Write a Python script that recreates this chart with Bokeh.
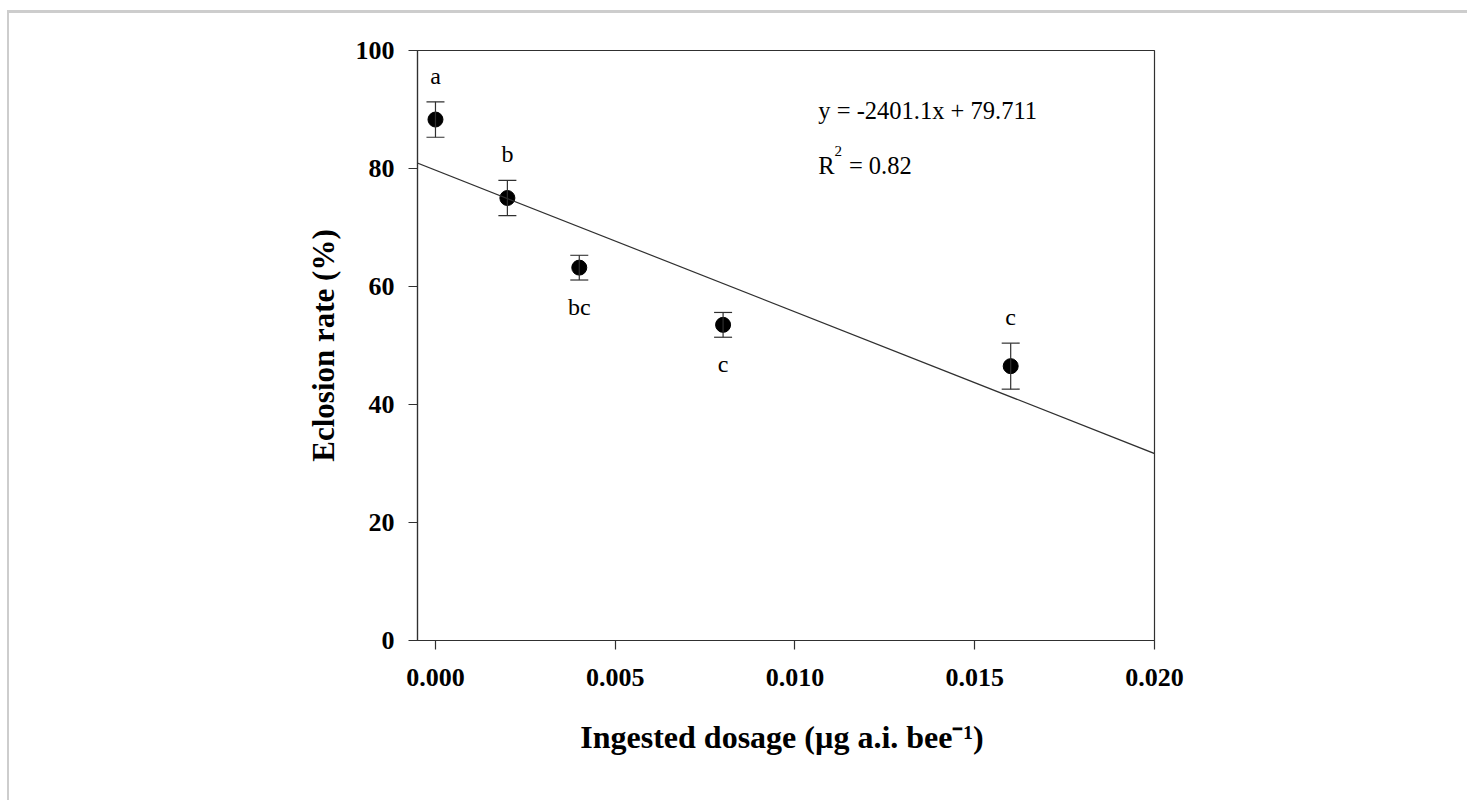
from bokeh.plotting import figure
from bokeh.models import (ColumnDataSource, Whisker, TeeHead, Slope, Label,
                          FixedTicker, PrintfTickFormatter, Range1d)
from bokeh.core.properties import value
from bokeh.embed import file_html
from bokeh.resources import INLINE

# ---- data ----
dosage = [0.000, 0.002, 0.004, 0.008, 0.016]
eclosion = [88.3, 75.0, 63.2, 53.5, 46.5]
err = [3.0, 3.0, 2.1, 2.1, 3.9]
letters = ["a", "b", "bc", "c", "c"]
letter_side = ["above", "above", "below", "below", "above"]
slope = -2401.1
intercept = 79.711
r2 = "0.82"
x_ticks = [0.000, 0.005, 0.010, 0.015, 0.020]
y_ticks = [0, 20, 40, 60, 80, 100]

SERIF = "Liberation Serif"
FRAME = "#303030"

p = figure(width=1460, height=790, output_backend="svg", toolbar_location=None,
           x_range=Range1d(-0.0005, 0.020), y_range=Range1d(0, 100),
           min_border_left=408, min_border_right=315,
           min_border_top=37, min_border_bottom=163,
           styles={"margin-top": "10px", "margin-left": "7px",
                   "border-top": "3px solid #cdcdcd", "border-left": "2px solid #cdcdcd"})
p.grid.visible = False
p.outline_line_color = FRAME
p.outline_line_width = 1.2
p.background_fill_color = "white"
p.border_fill_color = "white"

for ax in (p.xaxis[0], p.yaxis[0]):
    ax.axis_line_color = FRAME
    ax.axis_line_width = 1.2
    ax.major_tick_line_color = FRAME
    ax.major_tick_line_width = 1.2
    ax.major_tick_out = 9
    ax.major_tick_in = 0
    ax.minor_tick_line_color = None
    ax.major_label_text_font = SERIF
    ax.major_label_text_font_style = "bold"
    ax.major_label_text_font_size = "26px"
    ax.major_label_text_color = "black"
    ax.axis_label_text_font = SERIF
    ax.axis_label_text_font_style = "bold"
    ax.axis_label_text_color = "black"

p.xaxis.ticker = FixedTicker(ticks=x_ticks)
p.xaxis.formatter = PrintfTickFormatter(format="%.3f")
p.xaxis.major_label_standoff = 19
p.xaxis.axis_label = "Ingested dosage  (µg a.i. bee\u207b\u00b9)"
p.xaxis.axis_label_text_font_size = "32px"
p.xaxis.axis_label_standoff = 30

p.yaxis.ticker = FixedTicker(ticks=y_ticks)
p.yaxis.major_label_standoff = 14
p.yaxis.axis_label = "Eclosion rate (%)"
p.yaxis.axis_label_text_font_size = "31px"
p.yaxis.axis_label_standoff = 12

# regression line
p.add_layout(Slope(gradient=slope, y_intercept=intercept, line_color=FRAME, line_width=1.2))

upper = [v + e for v, e in zip(eclosion, err)]
lower = [v - e for v, e in zip(eclosion, err)]
src = ColumnDataSource(dict(x=dosage, y=eclosion, upper=upper, lower=lower))
p.add_layout(Whisker(base="x", upper="upper", lower="lower", source=src,
                     dimension="height", line_color=FRAME, line_width=1.2, level="glyph",
                     upper_head=TeeHead(size=18, line_color=FRAME, line_width=1.2),
                     lower_head=TeeHead(size=18, line_color=FRAME, line_width=1.2)))
p.scatter("x", "y", source=src, size=15, marker="circle",
          fill_color="black", line_color="black")

# significance letters
ab_x = [d for d, s in zip(dosage, letter_side) if s == "above"]
ab_y = [u for u, s in zip(upper, letter_side) if s == "above"]
ab_t = [t for t, s in zip(letters, letter_side) if s == "above"]
be_x = [d for d, s in zip(dosage, letter_side) if s == "below"]
be_y = [l for l, s in zip(lower, letter_side) if s == "below"]
be_t = [t for t, s in zip(letters, letter_side) if s == "below"]
p.text(ab_x, ab_y, text=ab_t, text_font=value(SERIF), text_font_size="24px",
       text_align="center", text_baseline="alphabetic", y_offset=-26, text_color="black")
p.text(be_x, be_y, text=be_t, text_font=value(SERIF), text_font_size="24px",
       text_align="center", text_baseline="top", y_offset=14, text_color="black")

# equation
eq = f"y = {slope}x + {intercept}"
p.add_layout(Label(x=0.01065, y=89.85, text=eq, text_font=SERIF, text_font_size="24.5px",
                   text_baseline="alphabetic", text_color="black"))
p.add_layout(Label(x=0.01065, y=80.5, text="R", text_font=SERIF, text_font_size="24.5px",
                   text_baseline="alphabetic", text_color="black"))
p.add_layout(Label(x=0.01110, y=82.9, text="2", text_font=SERIF, text_font_size="15px",
                   text_baseline="alphabetic", text_color="black"))
p.add_layout(Label(x=0.01150, y=80.5, text="= " + r2, text_font=SERIF, text_font_size="24.5px",
                   text_baseline="alphabetic", text_color="black"))

open("out.html", "w").write(file_html(p, INLINE))
